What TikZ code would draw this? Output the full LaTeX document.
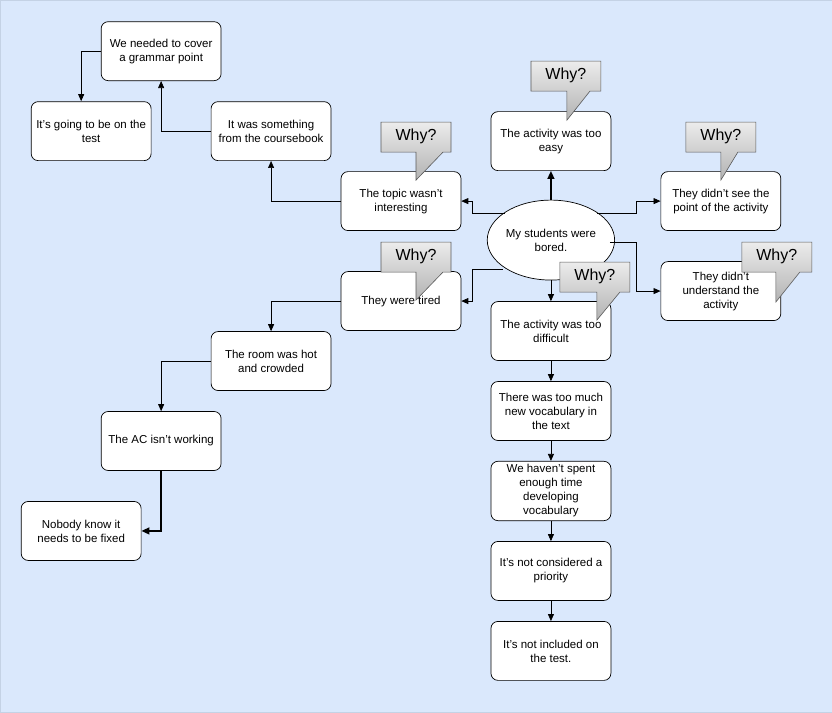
\documentclass[tikz,border=0pt]{standalone}
\usepackage{fontspec}
\setmainfont{Liberation Sans}
\usetikzlibrary{shapes.geometric,arrows.meta}
\definecolor{bg}{HTML}{DAE8FC}
\definecolor{bgline}{HTML}{6C8EBF}
\begin{document}
\begin{tikzpicture}[x=1pt,y=-1pt,
  box/.style={draw,fill=white,rounded corners=7pt,minimum width=120pt,minimum height=59pt,align=center,font=\fontsize{11.5}{14}\selectfont,line width=0.7pt},
  conn/.style={-{Triangle[length=7pt,width=6pt]},line width=0.7pt},
  thick conn/.style={-{Triangle[length=8pt,width=7pt]},line width=1.5pt},
  why/.style={draw=gray!70!black,top color=gray!15,bottom color=gray!60,line width=0.6pt}]
\fill[bg,draw=bgline!40] (0,0) rectangle (832,712);
\useasboundingbox (0,0) rectangle (832,712);
\node[box] (gram) at (161,51) {We needed to cover\\a grammar point};
\node[box] (test) at (91,131) {It's going to be on the\\test};
\node[box] (course) at (271,131) {It was something\\from the coursebook};
\node[box] (topic) at (401,201) {The topic wasn't\\interesting};
\node[box] (easy) at (551,141) {The activity was too\\easy};
\node[box] (point) at (721,201) {They didn't see the\\point of the activity};
\node[draw,fill=white,ellipse,inner sep=0pt,minimum width=120pt,minimum height=80pt,align=center,font=\fontsize{11.5}{14}\selectfont,line width=0.7pt] (bored) at (551,240) {My students were\\bored.};
\node[box] (tired) at (401,301) {They were tired};
\node[box] (under) at (721,291) {They didn't\\understand the\\activity};
\node[box] (diff) at (551,331) {The activity was too\\difficult};
\node[box] (room) at (271,361) {The room was hot\\and crowded};
\node[box] (ac) at (161,441) {The AC isn't working};
\node[box] (nobody) at (81,531) {Nobody know it\\needs to be fixed};
\node[box] (vocab) at (551,411) {There was too much\\new vocabulary in\\the text};
\node[box] (spent) at (551,491) {We haven't spent\\enough time\\developing\\vocabulary};
\node[box] (prio) at (551,571) {It's not considered a\\priority};
\node[box] (incl) at (551,651) {It's not included on\\the test.};
% connectors
\draw[thick conn] (bored.north) -- (easy.south);
\coordinate (bt) at (505,213);
\coordinate (bp) at (597,213);
\coordinate (bu) at (610,242);
\coordinate (bl) at (503,269);
\draw[conn] (bt) -- (472,213) |- (topic.east);
\draw[conn] (bp) -- (636,213) |- (point.west);
\draw[conn] (bu) -- (636,242) |- (under.west);
\draw[conn] (bl) -- (472,269) |- (tired.east);
\draw[conn] (bored.south) -- (diff.north);
\draw[conn] (topic.west) -| (course.south);
\draw[conn] (course.west) -| (gram.south);
\draw[conn] (gram.west) -- (81,51) -- (81,101);
\draw[conn] (tired.west) -| (room.north);
\draw[conn] (room.west) -| (ac.north);
\draw[thick conn] (ac.south) |- (nobody.east);
\draw[conn] (diff) -- (vocab);
\draw[conn] (vocab) -- (spent);
\draw[conn] (spent) -- (prio);
\draw[conn] (prio) -- (incl);
% callouts
\foreach \n/\x/\y/\tl/\tb/\tr in {wa/381/122/416/180/443, wb/531/61/567/120/590, wc/686/122/721/180/738, wd/381/242/416/300/443, we/560/262/597/320/620, wf/742/242/776/302/800}{
  \draw[why] (\x,\y) -- ++(70,0) -- ++(0,30) -- (\tr,\y+30) -- (\tl,\tb) -- (\tl,\y+30) -- (\x,\y+30) -- cycle;
  \node[font=\fontsize{16}{18}\selectfont] (\n) at (\x+35,\y+14) {Why?};
}
\end{tikzpicture}
\end{document}
